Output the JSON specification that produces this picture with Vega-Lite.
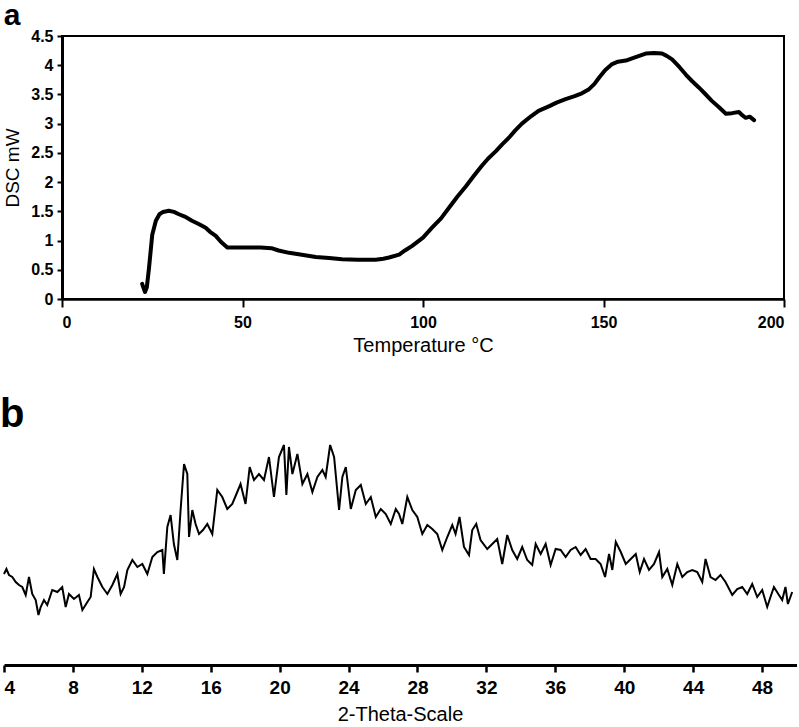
{
  "$schema": "https://vega.github.io/schema/vega-lite/v6.json",
  "padding": 0,
  "background": "white",
  "spacing": 39,
  "config": {
    "view": {"stroke": null},
    "axis": {"domainColor": "black", "tickColor": "black", "labelColor": "black", "titleColor": "black", "grid": false, "labelFont": "Liberation Sans", "titleFont": "Liberation Sans"},
    "title": {"color": "black", "font": "Liberation Sans", "fontWeight": "bold", "anchor": "start", "frame": "bounds"}
  },
  "vconcat": [
    {
      "width": 722,
      "height": 263,
      "view": {"stroke": "black", "strokeWidth": 2},
      "title": {"text": "a", "fontSize": 30, "offset": -3},
      "data": {"values": [
        {"T": 22.2, "v": 0.26}, {"T": 23.0, "v": 0.12}, {"T": 23.5, "v": 0.2}, {"T": 24.1, "v": 0.53}, {"T": 25, "v": 1.1},
        {"T": 26, "v": 1.34}, {"T": 27, "v": 1.45}, {"T": 28, "v": 1.49}, {"T": 29.6, "v": 1.51}, {"T": 31, "v": 1.49},
        {"T": 32.4, "v": 1.45}, {"T": 34, "v": 1.41}, {"T": 36, "v": 1.34}, {"T": 38, "v": 1.28}, {"T": 39.8, "v": 1.22},
        {"T": 41, "v": 1.15}, {"T": 42.6, "v": 1.08}, {"T": 44, "v": 0.98}, {"T": 45.8, "v": 0.88}, {"T": 50, "v": 0.88},
        {"T": 55, "v": 0.88}, {"T": 58, "v": 0.87}, {"T": 60, "v": 0.83}, {"T": 62.9, "v": 0.79}, {"T": 66, "v": 0.76},
        {"T": 70.3, "v": 0.72}, {"T": 74, "v": 0.7}, {"T": 77.6, "v": 0.68}, {"T": 82, "v": 0.67}, {"T": 86.9, "v": 0.67},
        {"T": 89, "v": 0.69}, {"T": 90.6, "v": 0.71}, {"T": 93.4, "v": 0.76}, {"T": 95, "v": 0.83}, {"T": 97, "v": 0.91},
        {"T": 100, "v": 1.05}, {"T": 102.5, "v": 1.22}, {"T": 105, "v": 1.38}, {"T": 107.2, "v": 1.56}, {"T": 109.5, "v": 1.75},
        {"T": 111.9, "v": 1.93}, {"T": 114, "v": 2.1}, {"T": 116.3, "v": 2.28}, {"T": 118, "v": 2.4}, {"T": 120.2, "v": 2.53},
        {"T": 122, "v": 2.65}, {"T": 123.8, "v": 2.76}, {"T": 125.5, "v": 2.88}, {"T": 127.4, "v": 3.0}, {"T": 130, "v": 3.13},
        {"T": 132, "v": 3.22}, {"T": 135, "v": 3.3}, {"T": 137, "v": 3.36}, {"T": 139.5, "v": 3.42}, {"T": 142, "v": 3.47},
        {"T": 144, "v": 3.52}, {"T": 146, "v": 3.59}, {"T": 147.5, "v": 3.68}, {"T": 148.8, "v": 3.79}, {"T": 150.5, "v": 3.92},
        {"T": 152.4, "v": 4.02}, {"T": 154, "v": 4.06}, {"T": 156.2, "v": 4.08}, {"T": 158.5, "v": 4.13}, {"T": 161.7, "v": 4.2},
        {"T": 164, "v": 4.21}, {"T": 166.2, "v": 4.2}, {"T": 167.5, "v": 4.16}, {"T": 169, "v": 4.1}, {"T": 171, "v": 3.97},
        {"T": 172.8, "v": 3.84}, {"T": 174.5, "v": 3.73}, {"T": 176.4, "v": 3.62}, {"T": 178, "v": 3.52}, {"T": 180, "v": 3.39},
        {"T": 182, "v": 3.28}, {"T": 183.9, "v": 3.17}, {"T": 185.6, "v": 3.18}, {"T": 187.5, "v": 3.2}, {"T": 188.5, "v": 3.14},
        {"T": 189.4, "v": 3.1}, {"T": 190.5, "v": 3.12}, {"T": 191.7, "v": 3.06}
      ]},
      "mark": {"type": "line", "color": "black", "strokeWidth": 4, "strokeJoin": "round", "strokeCap": "round"},
      "encoding": {
        "x": {"field": "T", "type": "quantitative", "scale": {"domain": [0, 200], "nice": false},
          "axis": {"values": [0, 50, 100, 150, 200], "title": "Temperature °C", "domainWidth": 2.5, "tickSize": 8, "tickWidth": 2, "labelPadding": 7, "labelFontSize": 16, "labelFontWeight": "bold", "titleFontSize": 20, "titleFontWeight": "normal", "titlePadding": 5}},
        "y": {"field": "v", "type": "quantitative", "scale": {"domain": [0, 4.5], "nice": false},
          "axis": {"values": [0, 0.5, 1, 1.5, 2, 2.5, 3, 3.5, 4, 4.5], "format": "~g", "title": "DSC mW", "domainWidth": 3, "tickSize": 5, "tickWidth": 2, "labelPadding": 4, "labelFontSize": 16, "labelFontWeight": "bold", "titleFontSize": 19, "titleFontWeight": "normal", "titlePadding": 8}}
      }
    },
    {
      "width": 734,
      "height": 230,
      "title": {"text": "b", "fontSize": 40, "offset": 0},
      "data": {"values": [
        {"t": 4.0, "i": 91}, {"t": 4.14, "i": 96}, {"t": 4.29, "i": 90}, {"t": 4.48, "i": 88}, {"t": 4.68, "i": 83},
        {"t": 4.87, "i": 80}, {"t": 5.06, "i": 78}, {"t": 5.26, "i": 70}, {"t": 5.45, "i": 88}, {"t": 5.64, "i": 71},
        {"t": 5.84, "i": 65}, {"t": 6.0, "i": 50}, {"t": 6.13, "i": 58}, {"t": 6.32, "i": 65}, {"t": 6.51, "i": 60},
        {"t": 6.8, "i": 75}, {"t": 7.1, "i": 73}, {"t": 7.38, "i": 78}, {"t": 7.58, "i": 58}, {"t": 7.77, "i": 71},
        {"t": 8.06, "i": 66}, {"t": 8.35, "i": 70}, {"t": 8.55, "i": 55}, {"t": 8.84, "i": 63}, {"t": 9.03, "i": 68},
        {"t": 9.22, "i": 96}, {"t": 9.42, "i": 88}, {"t": 9.71, "i": 78}, {"t": 10.0, "i": 71}, {"t": 10.29, "i": 80},
        {"t": 10.58, "i": 91}, {"t": 10.77, "i": 71}, {"t": 10.97, "i": 78}, {"t": 11.16, "i": 95}, {"t": 11.45, "i": 105},
        {"t": 11.74, "i": 98}, {"t": 12.03, "i": 101}, {"t": 12.32, "i": 91}, {"t": 12.61, "i": 108}, {"t": 12.9, "i": 113},
        {"t": 13.19, "i": 115}, {"t": 13.28, "i": 91}, {"t": 13.48, "i": 138}, {"t": 13.67, "i": 150}, {"t": 13.86, "i": 121},
        {"t": 14.06, "i": 105}, {"t": 14.25, "i": 155}, {"t": 14.45, "i": 201}, {"t": 14.64, "i": 191}, {"t": 14.74, "i": 128},
        {"t": 14.93, "i": 155}, {"t": 15.12, "i": 141}, {"t": 15.32, "i": 131}, {"t": 15.55, "i": 135}, {"t": 15.8, "i": 141},
        {"t": 16.09, "i": 131}, {"t": 16.38, "i": 175}, {"t": 16.67, "i": 168}, {"t": 16.96, "i": 156}, {"t": 17.25, "i": 161},
        {"t": 17.54, "i": 173}, {"t": 17.73, "i": 181}, {"t": 18.02, "i": 161}, {"t": 18.26, "i": 198}, {"t": 18.51, "i": 185},
        {"t": 18.8, "i": 191}, {"t": 19.09, "i": 185}, {"t": 19.38, "i": 208}, {"t": 19.67, "i": 168}, {"t": 19.96, "i": 208},
        {"t": 20.25, "i": 220}, {"t": 20.39, "i": 170}, {"t": 20.54, "i": 218}, {"t": 20.74, "i": 191}, {"t": 21.03, "i": 211},
        {"t": 21.32, "i": 181}, {"t": 21.61, "i": 191}, {"t": 21.9, "i": 173}, {"t": 22.19, "i": 188}, {"t": 22.48, "i": 195},
        {"t": 22.67, "i": 188}, {"t": 22.93, "i": 220}, {"t": 23.16, "i": 208}, {"t": 23.45, "i": 155}, {"t": 23.64, "i": 188},
        {"t": 23.84, "i": 198}, {"t": 24.13, "i": 156}, {"t": 24.42, "i": 175}, {"t": 24.71, "i": 180}, {"t": 25.0, "i": 161},
        {"t": 25.29, "i": 168}, {"t": 25.58, "i": 148}, {"t": 25.87, "i": 156}, {"t": 26.16, "i": 151}, {"t": 26.45, "i": 141},
        {"t": 26.74, "i": 156}, {"t": 26.93, "i": 151}, {"t": 27.12, "i": 141}, {"t": 27.41, "i": 168}, {"t": 27.7, "i": 155},
        {"t": 27.99, "i": 148}, {"t": 28.28, "i": 131}, {"t": 28.57, "i": 140}, {"t": 28.86, "i": 136}, {"t": 29.15, "i": 131},
        {"t": 29.44, "i": 115}, {"t": 29.73, "i": 128}, {"t": 30.02, "i": 140}, {"t": 30.21, "i": 131}, {"t": 30.44, "i": 148},
        {"t": 30.7, "i": 118}, {"t": 30.99, "i": 110}, {"t": 31.18, "i": 135}, {"t": 31.41, "i": 141}, {"t": 31.66, "i": 125},
        {"t": 32.05, "i": 116}, {"t": 32.34, "i": 121}, {"t": 32.63, "i": 126}, {"t": 32.92, "i": 101}, {"t": 33.21, "i": 130},
        {"t": 33.5, "i": 115}, {"t": 33.79, "i": 106}, {"t": 34.08, "i": 118}, {"t": 34.37, "i": 105}, {"t": 34.66, "i": 100},
        {"t": 34.86, "i": 121}, {"t": 35.15, "i": 111}, {"t": 35.44, "i": 121}, {"t": 35.73, "i": 100}, {"t": 36.02, "i": 116},
        {"t": 36.31, "i": 115}, {"t": 36.6, "i": 108}, {"t": 36.89, "i": 115}, {"t": 37.18, "i": 118}, {"t": 37.47, "i": 110},
        {"t": 37.76, "i": 116}, {"t": 38.05, "i": 106}, {"t": 38.34, "i": 106}, {"t": 38.63, "i": 101}, {"t": 38.89, "i": 88},
        {"t": 39.12, "i": 111}, {"t": 39.31, "i": 95}, {"t": 39.51, "i": 123}, {"t": 39.8, "i": 113}, {"t": 40.09, "i": 101},
        {"t": 40.38, "i": 106}, {"t": 40.67, "i": 111}, {"t": 40.9, "i": 93}, {"t": 41.15, "i": 106}, {"t": 41.44, "i": 95},
        {"t": 41.73, "i": 101}, {"t": 42.02, "i": 113}, {"t": 42.21, "i": 88}, {"t": 42.5, "i": 96}, {"t": 42.79, "i": 80},
        {"t": 43.08, "i": 101}, {"t": 43.37, "i": 88}, {"t": 43.66, "i": 93}, {"t": 43.95, "i": 95}, {"t": 44.24, "i": 93},
        {"t": 44.53, "i": 83}, {"t": 44.72, "i": 106}, {"t": 45.01, "i": 88}, {"t": 45.3, "i": 85}, {"t": 45.59, "i": 90},
        {"t": 45.88, "i": 83}, {"t": 46.27, "i": 70}, {"t": 46.56, "i": 76}, {"t": 46.85, "i": 78}, {"t": 47.14, "i": 71},
        {"t": 47.43, "i": 81}, {"t": 47.72, "i": 68}, {"t": 48.01, "i": 75}, {"t": 48.3, "i": 58}, {"t": 48.49, "i": 68},
        {"t": 48.69, "i": 78}, {"t": 48.98, "i": 70}, {"t": 49.17, "i": 65}, {"t": 49.36, "i": 78}, {"t": 49.5, "i": 61},
        {"t": 49.75, "i": 73}
      ]},
      "mark": {"type": "line", "color": "black", "strokeWidth": 2},
      "encoding": {
        "x": {"field": "t", "type": "quantitative", "scale": {"domain": [4, 50], "nice": false, "range": [-58, 734.5]},
          "axis": {"values": [4, 8, 12, 16, 20, 24, 28, 32, 36, 40, 44, 48], "title": "2-Theta-Scale", "titleX": 338, "domainWidth": 3, "tickSize": 7, "tickWidth": 2.5, "labelPadding": 6, "labelFontSize": 19, "labelFontWeight": "bold", "titleFontSize": 20, "titleFontWeight": "normal", "titlePadding": 7}},
        "y": {"field": "i", "type": "quantitative", "scale": {"domain": [0, 230], "nice": false}, "axis": null}
      }
    }
  ]
}
